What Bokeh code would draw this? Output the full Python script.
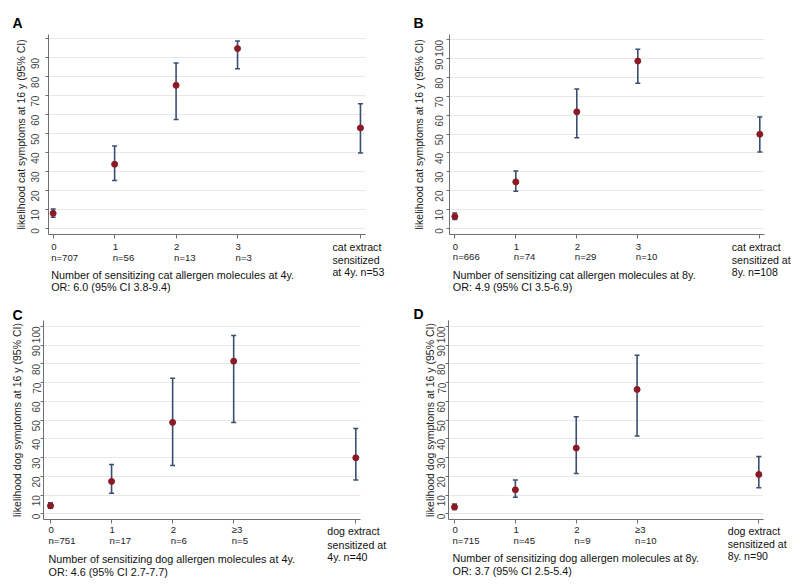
import math
from bokeh.plotting import figure
from bokeh.models import FixedTicker, Range1d
from bokeh.layouts import column, row
from bokeh.embed import file_html
from bokeh.resources import INLINE
from bokeh.core.properties import value

# ---------------- data ----------------
x_pos = [0, 1, 2, 3, 5]
y_ticks = [0, 10, 20, 30, 40, 50, 60, 70, 80, 90, 100]

# Panel A: cat, 4y
a_est = [7.9, 33.8, 75.5, 94.9, 53.0]
a_lo = [5.8, 25.2, 57.4, 84.2, 39.8]
a_hi = [10.2, 43.5, 87.3, 98.9, 65.8]
a_cats = ["0", "1", "2", "3"]
a_n = ["n=707", "n=56", "n=13", "n=3"]
a_extract = ["cat extract", "sensitized", "at 4y. n=53"]
a_title = ["Number of sensitizing cat allergen molecules at 4y.", "OR: 6.0 (95% CI 3.8-9.4)"]
a_ylabel = "likelihood cat symptoms at 16 y (95% CI)"

# Panel B: cat, 8y
b_est = [6.2, 24.6, 61.8, 88.8, 49.9]
b_lo = [4.6, 19.6, 48.0, 77.0, 40.5]
b_hi = [8.1, 30.4, 74.0, 95.0, 59.1]
b_cats = ["0", "1", "2", "3"]
b_n = ["n=666", "n=74", "n=29", "n=10"]
b_extract = ["cat extract", "sensitized at", "8y. n=108"]
b_title = ["Number of sensitizing cat allergen molecules at 8y.", "OR: 4.9 (95% CI 3.5-6.9)"]
b_ylabel = "likelihood cat symptoms at 16 y (95% CI)"

# Panel C: dog, 4y
c_est = [4.3, 17.3, 48.8, 81.5, 29.9]
c_lo = [3.0, 11.0, 25.8, 48.8, 18.0]
c_hi = [5.9, 26.3, 72.4, 95.2, 45.6]
c_cats = ["0", "1", "2", "\u22653"]
c_n = ["n=751", "n=17", "n=6", "n=5"]
c_extract = ["dog extract", "sensitized at", "4y. n=40"]
c_title = ["Number of sensitizing dog allergen molecules at 4y.", "OR: 4.6 (95% CI 2.7-7.7)"]
c_ylabel = "likelihood dog symptoms at 16 y (95% CI)"

# Panel D: dog, 8y
d_est = [3.6, 12.8, 35.1, 66.4, 21.0]
d_lo = [2.3, 8.9, 21.5, 41.5, 13.9]
d_hi = [5.3, 18.0, 51.8, 84.7, 30.6]
d_cats = ["0", "1", "2", "\u22653"]
d_n = ["n=715", "n=45", "n=9", "n=10"]
d_extract = ["dog extract", "sensitized at", "8y. n=90"]
d_title = ["Number of sensitizing dog allergen molecules at 8y.", "OR: 3.7 (95% CI 2.5-5.4)"]
d_ylabel = "likelihood dog symptoms at 16 y (95% CI)"

# ---------------- style ----------------
FONT = "Liberation Sans"
POINT_COLOR = "#8B1A24"
BAR_COLOR = "#3A4E72"
AXIS_COLOR = "#6E6E6E"
GRID_COLOR = "#E8E8E8"
W = 400


def make_panel(letter, est, lo, hi, cats, ns, extract, title, ylabel, lay, hide_100=False):
    H = lay["H"]
    x0, x1 = lay["xr"]
    y0, y1 = lay["yr"]
    bl, fw, bt, fh = lay["bl"], lay["fw"], lay["bt"], lay["fh"]
    ux = (x1 - x0) / fw          # data units per pixel (x)
    uy = (y1 - y0) / fh          # data units per pixel (y)
    # whole figure is the frame; the plotting region is [x0,x1] x [y0,y1]
    xr = Range1d(x0 - bl * ux, x1 + (W - bl - fw) * ux)
    yr = Range1d(y0 - (H - bt - fh) * uy, y1 + bt * uy)

    p = figure(width=W, height=H, x_range=xr, y_range=yr,
               output_backend="svg", toolbar_location=None,
               min_border_left=0, min_border_right=0,
               min_border_top=0, min_border_bottom=0)
    p.outline_line_color = None
    p.background_fill_color = "white"
    p.border_fill_color = "white"

    # grid (horizontal only, limited to plotting region)
    p.xgrid.visible = False
    p.ygrid.ticker = FixedTicker(ticks=y_ticks)
    p.ygrid.grid_line_color = GRID_COLOR
    p.ygrid.grid_line_width = 1
    p.ygrid.bounds = (y0, y1)
    p.ygrid.cross_bounds = (x0, x1)

    # y axis
    p.yaxis.fixed_location = x0
    p.yaxis.bounds = (y0, y1)
    p.yaxis.ticker = FixedTicker(ticks=y_ticks)
    if hide_100:
        p.yaxis.major_label_overrides = {100: ""}
    p.yaxis.axis_line_color = AXIS_COLOR
    p.yaxis.major_tick_line_color = AXIS_COLOR
    p.yaxis.major_tick_in = 0
    p.yaxis.major_tick_out = 3
    p.yaxis.minor_tick_line_color = None
    p.yaxis.major_label_orientation = math.pi / 2
    p.yaxis.major_label_text_font = FONT
    p.yaxis.major_label_text_font_size = "10px"
    p.yaxis.major_label_text_color = "#444444"
    p.yaxis.major_label_standoff = lay["ls"]
    p.yaxis.axis_label = ylabel
    p.yaxis.axis_label_text_font = FONT
    p.yaxis.axis_label_text_font_size = "10.5px"
    p.yaxis.axis_label_text_font_style = "normal"
    p.yaxis.axis_label_text_color = "#222222"
    p.yaxis.axis_label_standoff = lay["as"]

    # x axis
    p.xaxis.fixed_location = y0
    p.xaxis.bounds = (x0, x1)
    p.xaxis.ticker = FixedTicker(ticks=x_pos)
    p.xaxis.major_label_overrides = {t: "" for t in x_pos}
    p.xaxis.axis_line_color = AXIS_COLOR
    p.xaxis.major_tick_line_color = AXIS_COLOR
    p.xaxis.major_tick_in = 0
    p.xaxis.major_tick_out = 4
    p.xaxis.minor_tick_line_color = None

    # error bars and estimates
    p.segment(x0=x_pos, y0=lo, x1=x_pos, y1=hi, line_color=BAR_COLOR, line_width=1.6)
    p.scatter(x=x_pos, y=lo, marker="dash", size=5, line_color=BAR_COLOR, line_width=1.5)
    p.scatter(x=x_pos, y=hi, marker="dash", size=5, line_color=BAR_COLOR, line_width=1.5)
    p.scatter(x=x_pos, y=est, marker="circle", size=6,
              fill_color=POINT_COLOR, line_color=POINT_COLOR)

    # texts below the x axis (distances in pixels below the axis line)
    def below(px):
        return y0 - px * uy

    n_cat = len(cats)
    p.text(x=x_pos[:n_cat], y=[below(lay["c1"])] * n_cat, text=cats, x_offset=-2,
           text_font=value(FONT), text_font_size="9.6px", text_color="#222222",
           text_align="left", text_baseline="middle")
    p.text(x=x_pos[:n_cat], y=[below(lay["c2"])] * n_cat, text=ns, x_offset=-2,
           text_font=value(FONT), text_font_size="9.6px", text_color="#222222",
           text_align="left", text_baseline="middle")
    p.text(x=[x_pos[-1]] * len(extract), y=[below(v) for v in lay["e"]], text=extract,
           x_offset=lay["ex"],
           text_font=value(FONT), text_font_size="10.6px", text_color="#111111",
           text_align="left", text_baseline="middle")
    p.text(x=[x_pos[0]] * len(title), y=[below(v) for v in lay["t"]], text=title,
           x_offset=-2,
           text_font=value(FONT), text_font_size="10.8px", text_color="#111111",
           text_align="left", text_baseline="middle")

    # panel letter (pixel position inside the panel)
    p.text(x=[xr.start + lay["lx"] * ux], y=[yr.end - lay["lb"] * uy], text=[letter],
           text_font=value(FONT), text_font_size="14px", text_font_style="bold",
           text_color="#000000", text_align="left", text_baseline="alphabetic")
    return p


lay_a = dict(H=295, bl=48, fw=317, bt=34, fh=200, lx=12, lb=22,
             xr=(-0.076, 5.082), yr=(-3.3, 102.35),
             ls=10, **{"as": -2}, c1=12, c2=22.5, ex=-28, e=[12.5, 25, 37.5], t=[40, 52.5])
lay_b = dict(H=295, bl=49, fw=315, bt=34, fh=200, lx=13, lb=22,
             xr=(-0.087, 5.077), yr=(-3.35, 102.9),
             ls=7, **{"as": 4}, c1=12.4, c2=22.4, ex=-28, e=[12.4, 25, 37.4], t=[40, 52.4])
lay_c = dict(H=292, bl=43, fw=317, bt=25, fh=199, lx=12, lb=19,
             xr=(-0.115, 5.077), yr=(-3.04, 103.2),
             ls=4, **{"as": 3}, c1=10, c2=21, ex=-28.5, e=[11.7, 25.3, 37.7], t=[39.3, 52])
lay_d = dict(H=292, bl=48, fw=315, bt=25, fh=199, lx=13, lb=18,
             xr=(-0.099, 5.077), yr=(-3.04, 103.2),
             ls=4, **{"as": -5}, c1=10, c2=21.4, ex=-31, e=[11.4, 24.7, 36.4], t=[38.4, 51.7])

pa = make_panel("A", a_est, a_lo, a_hi, a_cats, a_n, a_extract, a_title, a_ylabel, lay_a, hide_100=True)
pb = make_panel("B", b_est, b_lo, b_hi, b_cats, b_n, b_extract, b_title, b_ylabel, lay_b)
pc = make_panel("C", c_est, c_lo, c_hi, c_cats, c_n, c_extract, c_title, c_ylabel, lay_c)
pd = make_panel("D", d_est, d_lo, d_hi, d_cats, d_n, d_extract, d_title, d_ylabel, lay_d)

layout = column(row(pa, pb, spacing=0), row(pc, pd, spacing=0), spacing=0)

open("out.html", "w").write(file_html(layout, INLINE))
